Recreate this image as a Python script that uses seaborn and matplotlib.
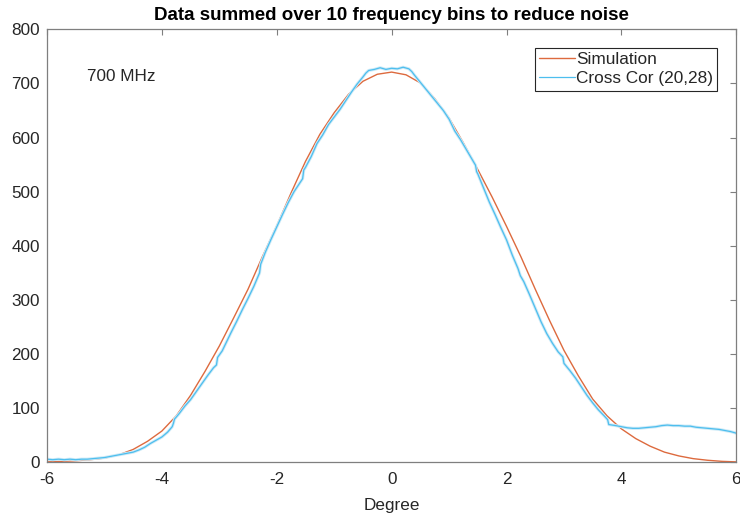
import numpy as np
import pandas as pd
import matplotlib
matplotlib.use("Agg")
import matplotlib.pyplot as plt
import seaborn as sns

# simulated beam (0.25 degree steps)
sim_deg = [-6.0, -5.75, -5.5, -5.25, -5.0, -4.75, -4.5, -4.25, -4.0, -3.75,
           -3.5, -3.25, -3.0, -2.75, -2.5, -2.25, -2.0, -1.75, -1.5, -1.25,
           -1.0, -0.75, -0.5, -0.25, 0.0, 0.25, 0.5, 0.75, 1.0, 1.25,
           1.5, 1.75, 2.0, 2.25, 2.5, 2.75, 3.0, 3.25, 3.5, 3.75,
           4.0, 4.25, 4.5, 4.75, 5.0, 5.25, 5.5, 5.75, 6.0]
sim_val = [1, 2, 3, 5, 8, 14, 24, 39, 58, 86,
           124, 168, 215, 267, 320, 380, 437, 498, 556, 606,
           646, 680, 704, 717, 721, 716, 701, 672, 636, 590,
           541, 490, 436, 380, 320, 262, 207, 160, 117, 86,
           62, 44, 30, 19, 12, 7, 4, 2, 1]

# measured cross correlation (20,28)
cc_deg = [-6.0, -5.9, -5.8, -5.7, -5.6, -5.5, -5.4, -5.3, -5.2, -5.1,
          -5.0, -4.9, -4.8, -4.7, -4.6, -4.5, -4.4, -4.3, -4.2, -4.1,
          -4.0, -3.9, -3.82, -3.8, -3.78, -3.7, -3.6, -3.5, -3.4, -3.3,
          -3.2, -3.1, -3.05, -3.03, -2.95, -2.9, -2.8, -2.7, -2.6, -2.5,
          -2.4, -2.3, -2.28, -2.2, -2.1, -2.0, -1.9, -1.8, -1.7, -1.6,
          -1.55, -1.53, -1.5, -1.4, -1.3, -1.2, -1.1, -1.0, -0.9, -0.8,
          -0.7, -0.6, -0.5, -0.45, -0.4, -0.3, -0.2, -0.1, 0.0, 0.1,
          0.2, 0.3, 0.35, 0.4, 0.5, 0.6, 0.7, 0.8, 0.9, 1.0,
          1.1, 1.2, 1.3, 1.4, 1.46, 1.48, 1.5, 1.6, 1.7, 1.8,
          1.9, 2.0, 2.1, 2.2, 2.24, 2.3, 2.4, 2.5, 2.6, 2.7,
          2.8, 2.9, 2.98, 3.0, 3.1, 3.2, 3.3, 3.4, 3.5, 3.6,
          3.7, 3.76, 3.78, 3.9, 4.0, 4.1, 4.2, 4.3, 4.4, 4.5,
          4.6, 4.7, 4.8, 4.9, 5.0, 5.1, 5.2, 5.3, 5.4, 5.5,
          5.6, 5.7, 5.8, 5.9, 6.0]
cc_val = [6, 5, 6, 5, 6, 5, 6, 6, 7, 8,
          9, 11, 13, 15, 17, 19, 23, 28, 35, 41,
          47, 56, 66, 72, 80, 90, 104, 116, 131, 146,
          161, 175, 180, 194, 206, 217, 239, 260, 282, 303,
          325, 350, 366, 388, 412, 435, 458, 480, 500, 516,
          524, 540, 545, 565, 589, 605, 624, 638, 652, 668,
          684, 699, 712, 719, 724, 726, 729, 726, 728, 727,
          730, 727, 722, 715, 702, 689, 676, 663, 650, 634,
          612, 596, 578, 560, 549, 537, 533, 507, 481, 458,
          434, 411, 383, 358, 345, 334, 310, 285, 260, 238,
          220, 204, 195, 183, 170, 156, 140, 124, 110, 97,
          86, 79, 70, 68, 66, 64, 63, 63, 64, 65,
          66, 68, 69, 68, 68, 67, 67, 65, 64, 63,
          62, 61, 59, 57, 54]

sim_df = pd.DataFrame({"Degree": sim_deg, "Power": sim_val})
cc_df = pd.DataFrame({"Degree": cc_deg, "Power": cc_val})

sns.set_style("white")
plt.rcParams["font.family"] = ["Liberation Sans", "DejaVu Sans"]
plt.rcParams["axes.unicode_minus"] = False

fig = plt.figure(figsize=(7.4, 5.19), dpi=100)
ax = fig.add_axes([0.0635, 0.109, 0.9315, 0.8345])

sns.lineplot(data=sim_df, x="Degree", y="Power", ax=ax, color="#DD6A3E",
             linewidth=1.0, estimator=None, sort=False, label="Simulation")
# soft halo under the measured trace, then the trace itself
sns.lineplot(data=cc_df, x="Degree", y="Power", ax=ax, color="#CDEAF7",
             linewidth=2.2, estimator=None, sort=False, legend=False)
sns.lineplot(data=cc_df, x="Degree", y="Power", ax=ax, color="#4DBEEE",
             linewidth=0.9, estimator=None, sort=False, label="Cross Cor (20,28)")

ax.set_xlim(-6, 6)
ax.set_ylim(0, 800)
ax.set_xticks(np.arange(-6, 7, 2))
ax.set_yticks(np.arange(0, 801, 100))
ax.set_xlabel("Degree", fontsize=12.3, color="#262626", labelpad=8)
ax.set_ylabel("")
ax.set_title("Data summed over 10 frequency bins to reduce noise",
             fontsize=13.5, fontweight="bold", color="black", pad=6.5)

for s in ax.spines.values():
    s.set_visible(True)
    s.set_color("#7f7f7f")
    s.set_linewidth(0.9)
ax.tick_params(direction="in", length=4, width=0.8, color="#7f7f7f",
               top=True, right=True, labelsize=12.3, labelcolor="#262626")
ax.tick_params(axis="x", pad=7)
ax.tick_params(axis="y", pad=5)

ax.text(-5.31, 712, "700 MHz", fontsize=12.3, color="#262626", ha="left", va="center")

leg = ax.legend(loc="upper right", bbox_to_anchor=(0.9724, 0.9575), borderaxespad=0,
                fontsize=12.4, frameon=True, fancybox=False, framealpha=1,
                edgecolor="#262626", handlelength=2.1, handletextpad=0.05,
                borderpad=0.25, labelspacing=0.25)
leg.get_frame().set_linewidth(0.8)
for t in leg.get_texts():
    t.set_color("#262626")

fig.savefig("out.png", dpi=100)
